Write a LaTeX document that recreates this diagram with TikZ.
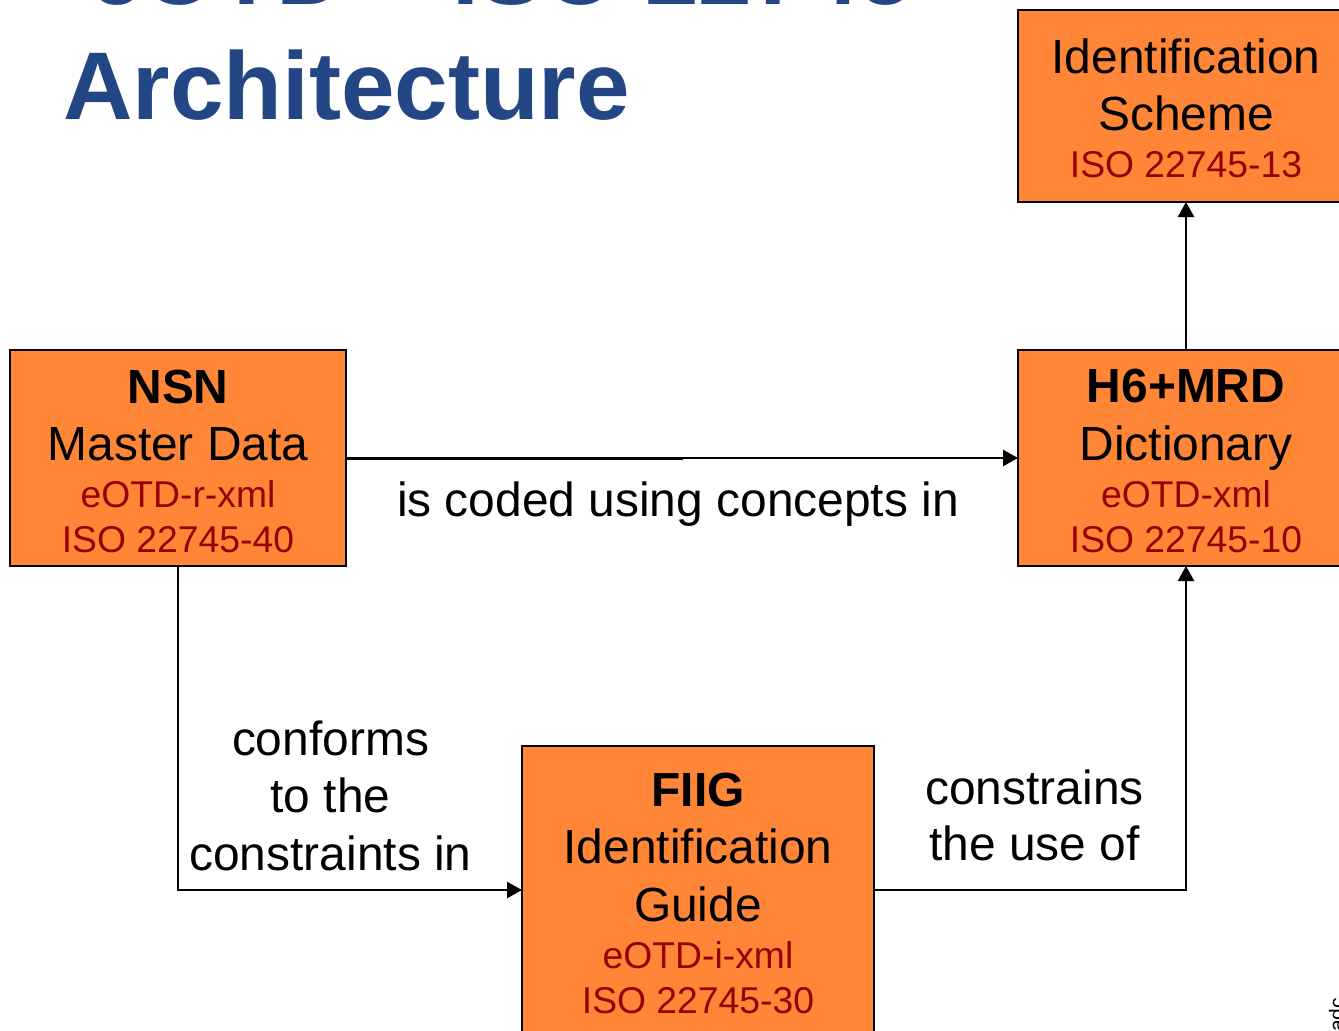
\documentclass[tikz,border=0pt]{standalone}
\usepackage{fontspec}
\setmainfont{Liberation Sans}
\usetikzlibrary{arrows.meta}
\definecolor{boxorange}{HTML}{FF8636}
\definecolor{stdred}{HTML}{990000}
\definecolor{titleblue}{HTML}{234785}
\tikzset{
  x=1pt,y=-1pt,
  orangebox/.style={draw=black,line width=2.5pt,fill=boxorange,inner sep=0pt,outer sep=0pt,anchor=north west},
  lbl/.style={align=center,inner sep=0pt,anchor=base,font=\fontsize{47.9}{57.5}\selectfont},
  redlbl/.style={inner sep=0pt,anchor=base,text=stdred,font=\fontsize{37.3}{45}\selectfont},
  boldlbl/.style={lbl,font=\fontsize{47.9}{57.5}\selectfont\bfseries},
  titletext/.style={inner sep=0pt,anchor=base west,text=titleblue,font=\fontsize{96.2}{110}\selectfont\bfseries},
  conn/.style={draw=black,line width=2.5pt,-{Triangle[length=15pt,width=16pt]}},
  edgetext/.style={inner sep=0pt,anchor=base west,rotate=90,font=\fontsize{21}{25}\selectfont}
}
\begin{document}
\begin{tikzpicture}
\useasboundingbox (0,0) rectangle (1339,1031);
\clip (0,0) rectangle (1339,1031);
\node[titletext] (t1) at (89,4) {eOTD – ISO 22745};
\node[titletext] (t2) at (63,119) {Architecture};
\node[edgetext] (edge) at (1344,1032) {adc};
% boxes
\node[orangebox,minimum width=336pt,minimum height=216pt] (nsn) at (10,350) {};
\node[orangebox,minimum width=340pt,minimum height=216pt] (h6) at (1018,350) {};
\node[orangebox,minimum width=340pt,minimum height=192pt] (id) at (1018,10) {};
\node[orangebox,minimum width=352pt,minimum height=300pt] (fiig) at (522,746) {};
% connector anchors
\coordinate (idb) at (1186,202);
\coordinate (h6t) at (1186,350);
\coordinate (h6b) at (1186,566);
\coordinate (h6l) at (1018,458);
\coordinate (nsnr) at (346,458.6);
\coordinate (jogl) at (682,458.6);
\coordinate (jogr) at (682,458);
\coordinate (nsnb) at (178,566);
\coordinate (fiigl) at (522,890);
\coordinate (fiigr) at (874,890);
\draw[conn] (h6t) -- (idb);
\draw[conn] (nsnr) -- (jogl) -- (jogr) -- (h6l);
\draw[conn] (nsnb) |- (fiigl);
\draw[conn] (fiigr) -| (h6b);
% texts
\node[lbl] (a1) at (1186,73) {Identification};
\node[lbl] (a2) at (1186,130) {Scheme};
\node[redlbl] (a3) at (1186,177) {ISO 22745-13};
\node[boldlbl] (b1) at (178,403) {NSN};
\node[lbl] (b2) at (178,460) {Master Data};
\node[redlbl] (b3) at (178,507) {eOTD-r-xml};
\node[redlbl] (b4) at (178,552) {ISO 22745-40};
\node[boldlbl] (c1) at (1186,402) {H6+MRD};
\node[lbl] (c2) at (1186,460) {Dictionary};
\node[redlbl] (c3) at (1186,507) {eOTD-xml};
\node[redlbl] (c4) at (1186,552) {ISO 22745-10};
\node[boldlbl] (d1) at (698,806) {FIIG};
\node[lbl] (d2) at (698,863) {Identification};
\node[lbl] (d3) at (698,921) {Guide};
\node[redlbl] (d4) at (698,968) {eOTD-i-xml};
\node[redlbl] (d5) at (698,1013) {ISO 22745-30};
\node[lbl] (e1) at (678,516) {is coded using concepts in};
\node[lbl] (f1) at (330.5,755) {conforms};
\node[lbl] (f2) at (330.5,812) {to the};
\node[lbl] (f3) at (330.5,870) {constraints in};
\node[lbl] (g1) at (1034.5,804) {constrains};
\node[lbl] (g2) at (1034.5,860) {the use of};
\end{tikzpicture}
\end{document}
